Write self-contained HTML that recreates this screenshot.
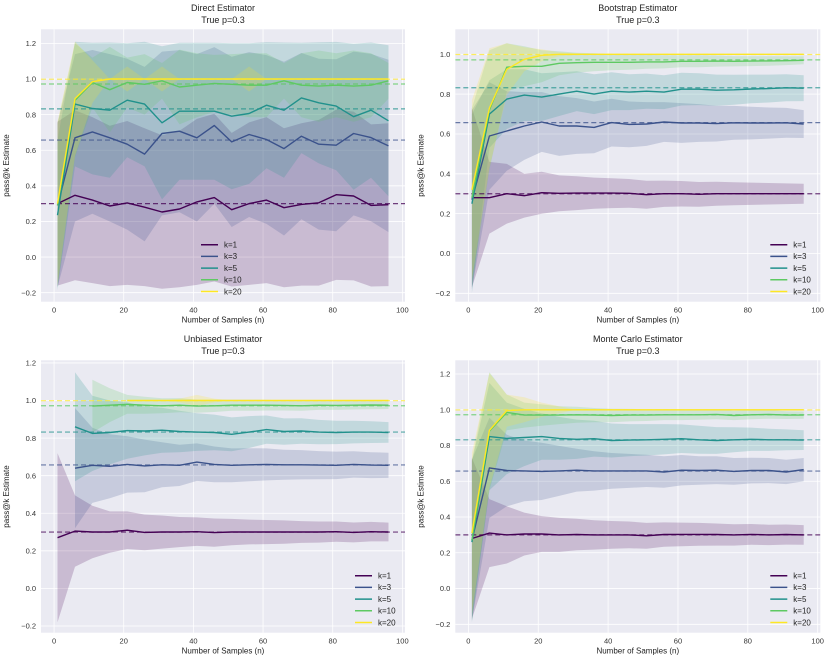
<!DOCTYPE html>
<html><head><meta charset="utf-8">
<style>
html,body{margin:0;padding:0;background:#fff;}
svg{display:block;font-family:"Liberation Sans","DejaVu Sans",sans-serif;}
</style></head>
<body>
<svg id="fig" width="832" height="664" viewBox="0 0 832 664" xmlns="http://www.w3.org/2000/svg"></svg>
<script>
const samples = [1,6,11,16,21,26,31,36,41,46,51,56,61,66,71,76,81,86,91,96];
const kLabels = ["k=1","k=3","k=5","k=10","k=20"];
const trueVals = [0.3,0.657,0.832,0.972,0.999];
const xTicks = [0,20,40,60,80,100];

// Direct estimator
const directK1 = [0.30,0.347,0.32,0.287,0.304,0.28,0.253,0.27,0.31,0.334,0.266,0.30,0.32,0.277,0.296,0.305,0.35,0.343,0.29,0.294];
const directK1Sd = [0.46,0.477,0.466,0.45,0.46,0.443,0.431,0.439,0.466,0.471,0.431,0.456,0.466,0.446,0.456,0.465,0.478,0.474,0.455,0.457];
const directK3 = [0.29,0.67,0.703,0.67,0.634,0.578,0.694,0.707,0.67,0.739,0.647,0.688,0.66,0.609,0.679,0.634,0.628,0.694,0.671,0.624];
const directK3Sd = [0.46,0.47,0.46,0.47,0.48,0.49,0.46,0.455,0.47,0.44,0.478,0.463,0.474,0.488,0.467,0.48,0.483,0.46,0.47,0.484];
const directK5 = [0.235,0.859,0.834,0.825,0.881,0.859,0.754,0.819,0.819,0.819,0.791,0.806,0.853,0.825,0.894,0.866,0.848,0.788,0.825,0.765];
const directK5Sd = [0.42,0.35,0.37,0.38,0.32,0.35,0.43,0.385,0.385,0.385,0.41,0.395,0.354,0.38,0.31,0.34,0.36,0.41,0.38,0.424];
const directK10 = [0.29,0.88,0.98,0.94,0.98,0.97,0.99,0.955,0.965,0.975,0.97,0.965,0.965,0.99,0.965,0.96,0.965,0.96,0.965,0.99];
const directK10Sd = [0.46,0.32,0.14,0.24,0.14,0.17,0.1,0.21,0.18,0.16,0.17,0.18,0.18,0.1,0.18,0.2,0.18,0.2,0.18,0.1];
const directK20 = [0.30,0.89,0.985,1.0,1.0,1.0,1.0,1.0,1.0,1.0,1.0,1.0,1.0,1.0,1.0,1.0,1.0,1.0,1.0,1.0];
const directK20Sd = [0.46,0.32,0.12,0.0,0.07,0.0,0.07,0.0,0.0,0.0,0.0,0.07,0.0,0.0,0.0,0.0,0.0,0.0,0.0,0.0];

// Bootstrap estimator
const bootK1 = [0.28,0.28,0.30,0.29,0.305,0.302,0.303,0.303,0.303,0.302,0.295,0.30,0.30,0.297,0.30,0.30,0.30,0.30,0.30,0.30];
const bootK1Sd = [0.45,0.18,0.15,0.11,0.105,0.09,0.085,0.078,0.075,0.072,0.07,0.066,0.064,0.062,0.06,0.058,0.056,0.054,0.052,0.05];
const bootK3 = [0.27,0.59,0.615,0.64,0.66,0.64,0.64,0.633,0.657,0.648,0.65,0.66,0.655,0.655,0.652,0.656,0.655,0.655,0.656,0.65];
const bootK3Sd = [0.45,0.27,0.2,0.17,0.15,0.15,0.14,0.13,0.12,0.115,0.11,0.1,0.1,0.095,0.09,0.085,0.082,0.078,0.075,0.07];
const bootK5 = [0.25,0.70,0.775,0.795,0.785,0.80,0.815,0.80,0.815,0.81,0.815,0.81,0.825,0.825,0.82,0.822,0.826,0.828,0.832,0.83];
const bootK5Sd = [0.45,0.17,0.15,0.13,0.12,0.11,0.1,0.1,0.095,0.09,0.088,0.085,0.082,0.08,0.078,0.075,0.072,0.07,0.068,0.065];
const bootK10 = [0.28,0.72,0.935,0.94,0.94,0.955,0.958,0.96,0.96,0.96,0.962,0.962,0.965,0.965,0.966,0.965,0.966,0.967,0.968,0.97];
const bootK10Sd = [0.45,0.3,0.12,0.1,0.08,0.06,0.05,0.045,0.04,0.038,0.035,0.033,0.03,0.03,0.028,0.026,0.025,0.024,0.022,0.02];
const bootK20 = [0.32,0.73,0.925,0.975,0.995,1.0,1.0,1.0,1.0,1.0,1.0,1.0,1.0,1.0,1.0,1.0,1.0,1.0,1.0,1.0];
const bootK20Sd = [0.45,0.3,0.13,0.06,0.03,0.01,0.005,0.0,0.0,0.0,0.0,0.0,0.0,0.0,0.0,0.0,0.0,0.0,0.0,0.0];

// Unbiased estimator (null = not defined for n < k)
const unbK1 = [0.27,0.305,0.30,0.30,0.31,0.298,0.30,0.30,0.302,0.297,0.30,0.30,0.30,0.30,0.30,0.30,0.302,0.298,0.302,0.30];
const unbK1Sd = [0.45,0.19,0.14,0.11,0.1,0.095,0.088,0.08,0.076,0.075,0.07,0.066,0.064,0.062,0.058,0.056,0.054,0.053,0.052,0.05];
const unbK3 = [null,0.64,0.655,0.65,0.66,0.652,0.658,0.655,0.672,0.66,0.655,0.658,0.66,0.658,0.658,0.656,0.655,0.66,0.656,0.655];
const unbK3Sd = [null,0.32,0.2,0.17,0.15,0.14,0.12,0.11,0.1,0.095,0.09,0.088,0.085,0.08,0.078,0.075,0.073,0.07,0.069,0.067];
const unbK5 = [null,0.86,0.825,0.83,0.84,0.838,0.842,0.835,0.832,0.83,0.82,0.832,0.845,0.835,0.838,0.832,0.83,0.832,0.832,0.83];
const unbK5Sd = [null,0.29,0.2,0.17,0.15,0.13,0.12,0.11,0.1,0.095,0.09,0.085,0.075,0.07,0.068,0.065,0.062,0.06,0.058,0.055];
const unbK10 = [null,null,0.97,0.975,0.98,0.975,0.972,0.975,0.97,0.972,0.975,0.975,0.975,0.974,0.972,0.975,0.974,0.975,0.976,0.975];
const unbK10Sd = [null,null,0.14,0.09,0.05,0.045,0.04,0.038,0.035,0.033,0.03,0.03,0.028,0.027,0.026,0.025,0.024,0.023,0.022,0.02];
const unbK20 = [null,null,null,null,1.0,1.0,1.0,1.0,1.0,1.0,1.0,1.0,1.0,1.0,1.0,1.0,1.0,1.0,1.0,1.0];
const unbK20Sd = [null,null,null,null,0.0,0.0,0.0,0.01,0.03,0.01,0.0,0.0,0.0,0.0,0.0,0.0,0.0,0.0,0.0,0.0];

// Monte Carlo estimator
const mcK1 = [0.28,0.31,0.30,0.305,0.305,0.30,0.302,0.30,0.30,0.30,0.295,0.302,0.303,0.303,0.302,0.30,0.303,0.30,0.302,0.30];
const mcK1Sd = [0.45,0.19,0.16,0.12,0.1,0.095,0.088,0.082,0.078,0.075,0.072,0.068,0.066,0.064,0.062,0.06,0.058,0.057,0.056,0.055];
const mcK3 = [0.27,0.675,0.66,0.658,0.655,0.658,0.662,0.658,0.658,0.658,0.658,0.652,0.662,0.66,0.662,0.655,0.66,0.66,0.652,0.665];
const mcK3Sd = [0.45,0.28,0.2,0.17,0.16,0.14,0.12,0.11,0.1,0.095,0.09,0.088,0.085,0.08,0.078,0.075,0.072,0.07,0.068,0.065];
const mcK5 = [0.26,0.85,0.84,0.845,0.85,0.84,0.835,0.838,0.828,0.83,0.832,0.835,0.838,0.832,0.828,0.832,0.835,0.832,0.832,0.83];
const mcK5Sd = [0.45,0.3,0.2,0.16,0.13,0.12,0.11,0.1,0.095,0.09,0.088,0.085,0.08,0.078,0.075,0.07,0.065,0.062,0.058,0.055];
const mcK10 = [0.27,0.88,0.985,0.97,0.97,0.97,0.972,0.97,0.968,0.97,0.97,0.972,0.972,0.972,0.974,0.968,0.972,0.974,0.97,0.97];
const mcK10Sd = [0.45,0.33,0.1,0.07,0.06,0.05,0.045,0.04,0.038,0.035,0.033,0.03,0.03,0.028,0.027,0.026,0.025,0.024,0.022,0.02];
const mcK20 = [0.31,0.885,0.995,1.0,1.0,1.0,1.0,1.0,1.0,1.0,1.0,1.0,1.0,1.0,1.0,1.0,1.0,1.0,1.0,1.0];
const mcK20Sd = [0.45,0.32,0.09,0.07,0.04,0.02,0.0,0.0,0.0,0.0,0.0,0.0,0.0,0.0,0.0,0.0,0.0,0.0,0.0,0.0];

const colors = ["#440154","#3b528b","#21918c","#5ec962","#fde725"];
const NS = "http://www.w3.org/2000/svg";
const fig = document.getElementById('fig');

function mk(tag, attrs, parent, text){
  const e = document.createElementNS(NS, tag);
  for (const k in attrs) e.setAttribute(k, attrs[k]);
  if (text !== undefined) e.textContent = text;
  parent.appendChild(e);
  return e;
}

const panels = [
  {title:"Direct Estimator", slug:"direct", box:[41,29.3,405,301.7], ylim:[-0.2506,1.279], yTicks:[-0.2,0,0.2,0.4,0.6,0.8,1.0,1.2], legend:"center",
   means:[directK1,directK3,directK5,directK10,directK20], sds:[directK1Sd,directK3Sd,directK5Sd,directK10Sd,directK20Sd]},
  {title:"Bootstrap Estimator", slug:"bootstrap", box:[455.3,29.3,820.3,301.7], ylim:[-0.242,1.1255], yTicks:[-0.2,0,0.2,0.4,0.6,0.8,1.0], legend:"right",
   means:[bootK1,bootK3,bootK5,bootK10,bootK20], sds:[bootK1Sd,bootK3Sd,bootK5Sd,bootK10Sd,bootK20Sd]},
  {title:"Unbiased Estimator", slug:"unbiased", box:[41,360.3,405,632.7], ylim:[-0.2357,1.214], yTicks:[-0.2,0,0.2,0.4,0.6,0.8,1.0,1.2], legend:"right",
   means:[unbK1,unbK3,unbK5,unbK10,unbK20], sds:[unbK1Sd,unbK3Sd,unbK5Sd,unbK10Sd,unbK20Sd]},
  {title:"Monte Carlo Estimator", slug:"monte-carlo", box:[455.3,360.3,820.3,632.7], ylim:[-0.247,1.2766], yTicks:[-0.2,0,0.2,0.4,0.6,0.8,1.0,1.2], legend:"right",
   means:[mcK1,mcK3,mcK5,mcK10,mcK20], sds:[mcK1Sd,mcK3Sd,mcK5Sd,mcK10Sd,mcK20Sd]}
];

panels.forEach(function(p){
  const [x0,y0,x1,y1] = p.box;
  const xmin=-3.75, xmax=100.75;
  const X = v => x0 + (v - xmin)/(xmax - xmin)*(x1 - x0);
  const Y = v => y1 - (v - p.ylim[0])/(p.ylim[1] - p.ylim[0])*(y1 - y0);
  const g = mk('g', {}, fig);
  
  
  const clipId = 'clip-' + p.slug;
  const cp = mk('clipPath', {id:clipId}, g);
  mk('rect', {x:x0,y:y0,width:x1-x0,height:y1-y0}, cp);
  const bg = mk('rect', {x:x0,y:y0,width:x1-x0,height:y1-y0,fill:'#eaeaf2'}, g);
  
  
  // grid + ticks
  xTicks.forEach(function(t){
    const gl = mk('line', {x1:X(t),x2:X(t),y1:y0,y2:y1,stroke:'#fff','stroke-width':0.8}, g);
    
    
    const tl = mk('text', {x:X(t),y:y1+11,'font-size':7.5,fill:'#333','text-anchor':'middle'}, g, String(t));
    
    
  });
  p.yTicks.forEach(function(t){
    const gl = mk('line', {x1:x0,x2:x1,y1:Y(t),y2:Y(t),stroke:'#fff','stroke-width':0.8}, g);
    
    
    const lbl = (t < 0 ? '\u22120.2' : t.toFixed(1));
    const tl = mk('text', {x:x0-5,y:Y(t)+2.7,'font-size':7.5,fill:'#333','text-anchor':'end'}, g, lbl);
    
    
  });
  const plot = mk('g', {'clip-path':'url(#'+clipId+')'}, g);
  // bands
  p.means.forEach(function(m, k){
    const sd = p.sds[k];
    const up = [], lo = [];
    samples.forEach(function(n, i){
      if (m[i] === null) return;
      up.push(X(n).toFixed(1)+','+Y(m[i]+sd[i]).toFixed(1));
      lo.unshift(X(n).toFixed(1)+','+Y(m[i]-sd[i]).toFixed(1));
    });
    const band = mk('polygon', {points:up.concat(lo).join(' '),fill:colors[k],'fill-opacity':0.2,stroke:'none'}, plot);
    
    
  });
  // true value dashed lines
  trueVals.forEach(function(v, k){
    const dl = mk('line', {x1:x0,x2:x1,y1:Y(v),y2:Y(v),stroke:colors[k],'stroke-width':1.2,'stroke-dasharray':'5,3','stroke-opacity':0.75}, plot);
    
    
  });
  // mean lines
  p.means.forEach(function(m, k){
    const pts = [];
    samples.forEach(function(n, i){ if (m[i] !== null) pts.push(X(n).toFixed(1)+','+Y(m[i]).toFixed(1)); });
    const ln = mk('polyline', {points:pts.join(' '),fill:'none',stroke:colors[k],'stroke-width':1.4,'stroke-linejoin':'round'}, plot);
    
    
  });
  // titles
  const cx = (x0+x1)/2;
  const t1 = mk('text', {x:cx,y:y0-18.5,'font-size':9,fill:'#222','text-anchor':'middle'}, g, p.title);
  
  
  const t2 = mk('text', {x:cx,y:y0-6.5,'font-size':9,fill:'#222','text-anchor':'middle'}, g, 'True p=0.3');
  
  
  const xl = mk('text', {x:cx,y:y1+21,'font-size':8,fill:'#222','text-anchor':'middle'}, g, 'Number of Samples (n)');
  
  
  const yc = (y0+y1)/2, yx = x0-32;
  const yl = mk('text', {x:yx,y:yc,'font-size':8,fill:'#222','text-anchor':'middle',transform:'rotate(-90 '+yx+' '+yc+')'}, g, 'pass@k Estimate');
  
  
  // legend
  const lx = p.legend === 'center' ? x0+160 : x1-50;
  const ly = y1-57;
  const lg = mk('g', {}, g);
  
  
  kLabels.forEach(function(lab, k){
    const yy = ly + k*11.7;
    const e = mk('g', {}, lg);
    
    
    mk('line', {x1:lx,x2:lx+17,y1:yy,y2:yy,stroke:colors[k],'stroke-width':1.5}, e);
    mk('text', {x:lx+23,y:yy+2.8,'font-size':8,fill:'#222'}, e, lab);
  });
});
</script>
</body></html>
